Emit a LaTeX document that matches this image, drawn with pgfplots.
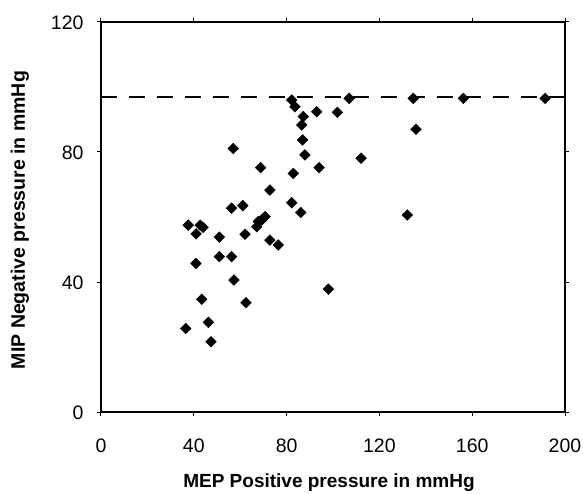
\documentclass[border=0pt]{standalone}
\usepackage{fontspec}
\setmainfont{Liberation Sans}
\usepackage{pgfplots}
\pgfplotsset{compat=1.18}
\begin{document}
\begin{tikzpicture}
\useasboundingbox (-101pt,-81pt) rectangle (482pt,412pt);
\begin{axis}[
  at={(0,0)}, anchor=south west,
  scale only axis, width=464pt, height=390pt,
  xmin=0, xmax=200, ymin=0, ymax=120,
  xtick={0,40,...,200}, ytick={0,40,80,120},
  tick align=outside, major tick length=4pt,
  tick style={black, line width=1pt},
  axis line style={black, line width=1.8pt},
  /pgf/number format/assume math mode=true,
  tick label style={font=\fontsize{19.5}{20}\selectfont},
  xticklabel style={anchor=base, yshift=-36pt},
  yticklabel style={xshift=-10pt, yshift=-1pt},
  clip=false,
]
\addplot[black, line width=1.8pt, dash pattern=on 16pt off 12pt] coordinates {(0,97) (200,97)};
\addplot[only marks, mark=square*, mark size=3.8pt, mark options={rotate=45}, black] coordinates {
(82.2,96) (83.6,93.9) (87.2,90.9) (93,92.4) (101.9,92.2) (86.5,88.3) (86.9,83.7)
(107,96.5) (134.6,96.5) (156.2,96.5) (191.4,96.5)
(135.8,87) (112.1,78.1) (57,81.1) (87.9,79.1)
(68.8,75.2) (82.9,73.4) (94,75.2) (72.8,68.3)
(82.2,64.4) (86.1,61.4) (56.3,62.7) (61.1,63.5)
(67.8,58.6) (70.7,60.1) (67.1,57) (69.3,59.1)
(37.6,57.5) (42.7,57.5) (41,54.8) (44,56.8)
(51,53.8) (62.1,54.7) (72.8,52.9) (76.4,51.4)
(51,47.8) (56.3,47.8) (40.9,45.7) (57.3,40.6)
(98,37.8) (43.4,34.7) (62.5,33.6) (46.3,27.6) (36.5,25.7) (47.4,21.6)
(132,60.6)
};
\end{axis}
\node[anchor=base, font=\bfseries\fontsize{19}{20}\selectfont] at (228pt,-75pt) {MEP Positive pressure in mmHg};
\node[rotate=90, font=\bfseries\fontsize{19.5}{20}\selectfont] at (-81pt,192pt) {MIP Negative pressure in mmHg};
\end{tikzpicture}
\end{document}
